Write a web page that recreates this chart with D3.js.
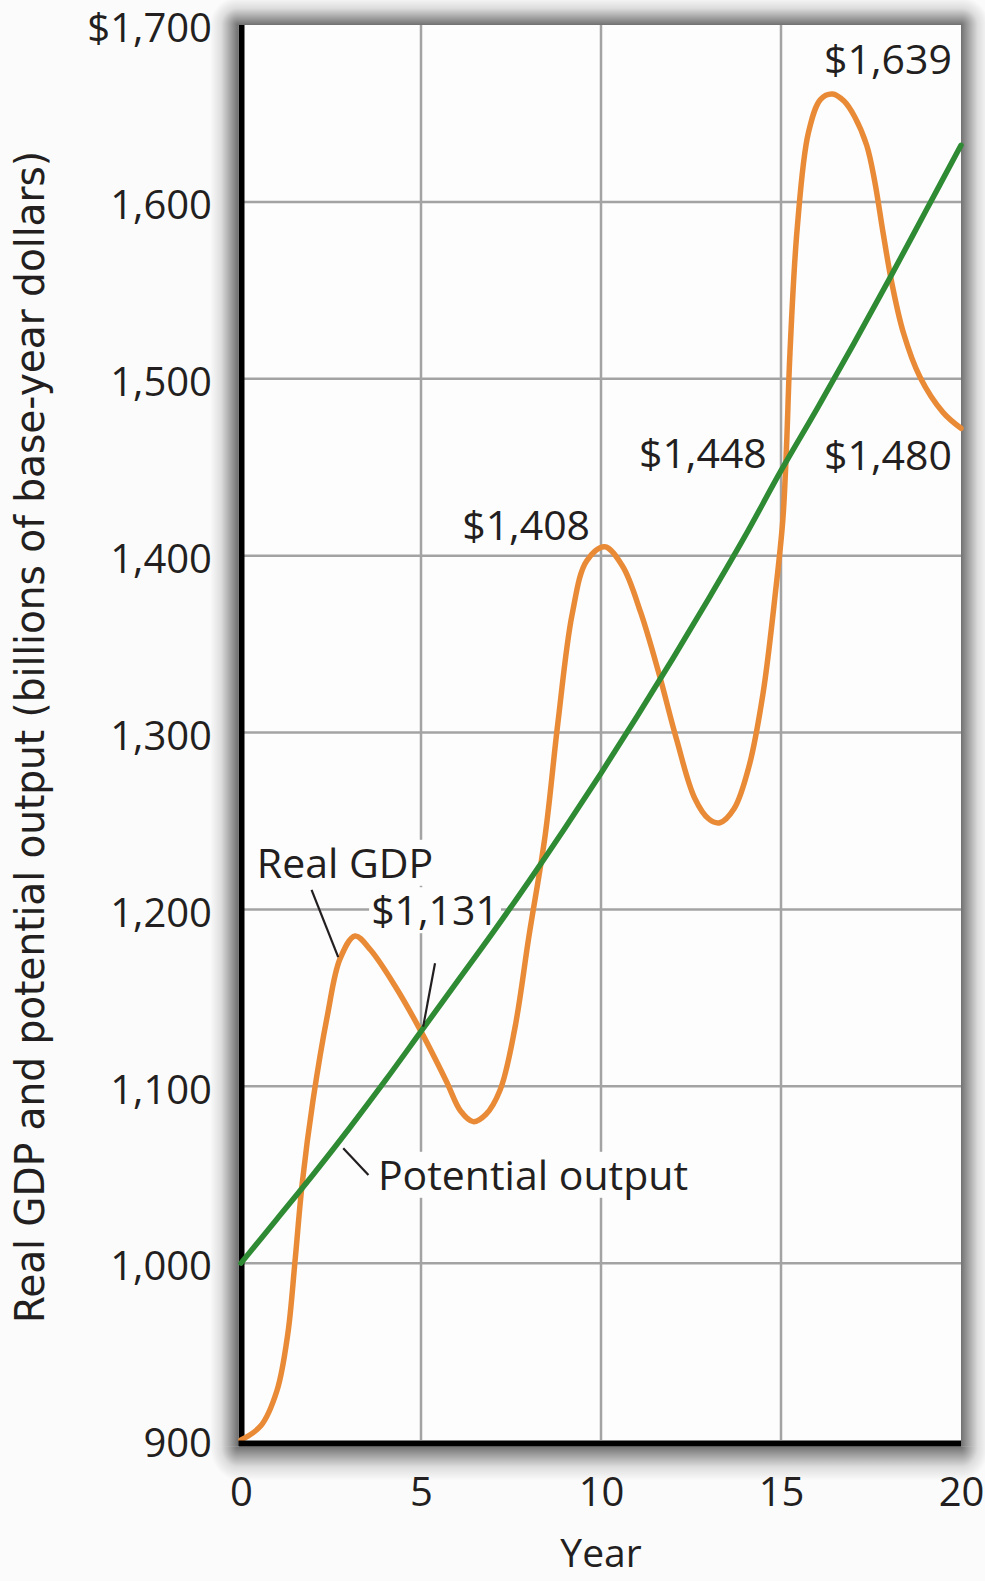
<!DOCTYPE html>
<html><head><meta charset="utf-8">
<script src="https://cdn.jsdelivr.net/npm/d3@7"></script>
<style>html,body{margin:0;padding:0;background:#fbfbfb;} svg{display:block;}</style>
</head><body>
<svg id="chart" width="985" height="1581"></svg>
<script>
// ---- data ----
const xTicks = [0, 5, 10, 15, 20];
const xTickLabels = ["0", "5", "10", "15", "20"];
const yTicks = [900, 1000, 1100, 1200, 1300, 1400, 1500, 1600, 1700];
const yTickLabels = ["900", "1,000", "1,100", "1,200", "1,300", "1,400", "1,500", "1,600", "$1,700"];

const potentialYears = [0,1,2,3,4,5,6,7,8,9,10,11,12,13,14,15,16,17,18,19,20];
const potentialValues = [1000,1025,1050,1076,1103,1131,1159,1187,1216,1246,1277,1309,1342,1376,1411,1448,1483,1519,1556,1594,1632];

const gdpYears = [0,0.55,1.0,1.3,1.5,1.7,2.0,2.4,2.75,3.17,3.6,4.3,5.0,5.7,6.1,6.45,6.8,7.2,7.6,8.0,8.45,8.8,9.2,9.6,10.1,10.6,11.1,11.6,12.1,12.6,13.0,13.3,13.7,14.1,14.5,14.85,15.05,15.15,15.25,15.45,15.76,16.1,16.43,16.75,17.05,17.38,17.6,17.84,18.08,18.4,18.86,19.5,20];
const gdpValues = [900,908,928,960,1001,1045,1092,1140,1172,1185,1177,1156,1131,1103,1086,1080,1084,1098,1132,1185,1242,1305,1367,1397,1405,1394,1368,1334,1296,1263,1251,1249,1257,1280,1322,1380,1420,1460,1515,1585,1639,1658,1661,1657,1648,1632,1612,1582,1554,1526,1501,1481,1472];

const labelTexts = ["$1,639", "$1,448", "$1,480", "$1,408", "Real GDP", "$1,131", "Potential output"];
const labelYears = [17.97, 12.83, 17.97, 7.92, 2.89, 5.39, 8.11];
const labelValues = [1680.8, 1458, 1456.9, 1417.3, 1226.2, 1199.4, 1049.8];

const leaderYears1 = [1.96, 5.39, 2.84];
const leaderValues1 = [1211, 1169.5, 1064.9];
const leaderYears2 = [2.70, 5.06, 3.54];
const leaderValues2 = [1173, 1133.7, 1049.8];

// ---- layout ----
const svg = d3.select("#chart");
const plotLeft = 241, plotRight = 961, plotTop = 25, plotBottom = 1440;
const x = d3.scaleLinear().domain([0, 20]).range([plotLeft, plotRight]);
const y = d3.scaleLinear().domain([900, 1700]).range([plotBottom, plotTop]);
const FONT = "'Open Sans', 'Noto Sans', sans-serif";
const TXT = "#231f20";

const defs = svg.append("defs");
const stops = [[0, 0.55], [0.3, 0.33], [0.6, 0.12], [1, 0]];
function grad(id, x1, y1, x2, y2) {
  const g = defs.append("linearGradient").attr("id", id).attr("x1", x1).attr("y1", y1).attr("x2", x2).attr("y2", y2);
  stops.forEach(s => g.append("stop").attr("offset", s[0]).attr("stop-color", "#000").attr("stop-opacity", s[1]));
}
function rgrad(id, cx, cy) {
  const g = defs.append("radialGradient").attr("id", id).attr("cx", cx).attr("cy", cy).attr("r", 1).attr("fx", cx).attr("fy", cy);
  stops.forEach(s => g.append("stop").attr("offset", s[0]).attr("stop-color", "#000").attr("stop-opacity", s[1]));
}
grad("gL", "100%", "0%", "0%", "0%");
grad("gR", "0%", "0%", "100%", "0%");
grad("gT", "0%", "100%", "0%", "0%");
grad("gB", "0%", "0%", "0%", "100%");
rgrad("cTL", 1, 1); rgrad("cTR", 0, 1); rgrad("cBL", 1, 0); rgrad("cBR", 0, 0);

const x0 = x(0) - 3, x1 = x(20), y0 = y(1700), y1 = y(900) + 6.5;
const sw = 28;
const sh = svg.append("g");
sh.append("rect").attr("x", x0 - sw).attr("y", y0).attr("width", sw).attr("height", y1 - y0).attr("fill", "url(#gL)");
sh.append("rect").attr("x", x1).attr("y", y0).attr("width", sw).attr("height", y1 - y0).attr("fill", "url(#gR)");
sh.append("rect").attr("x", x0).attr("y", y0 - sw).attr("width", x1 - x0).attr("height", sw).attr("fill", "url(#gT)");
sh.append("rect").attr("x", x0).attr("y", y1).attr("width", x1 - x0).attr("height", sw + 6).attr("fill", "url(#gB)");
sh.append("rect").attr("x", x0 - sw).attr("y", y0 - sw).attr("width", sw).attr("height", sw).attr("fill", "url(#cTL)");
sh.append("rect").attr("x", x1).attr("y", y0 - sw).attr("width", sw).attr("height", sw).attr("fill", "url(#cTR)");
sh.append("rect").attr("x", x0 - sw).attr("y", y1).attr("width", sw).attr("height", sw + 6).attr("fill", "url(#cBL)");
sh.append("rect").attr("x", x1).attr("y", y1).attr("width", sw).attr("height", sw + 6).attr("fill", "url(#cBR)");

svg.append("rect").attr("x", x(0)).attr("y", y(1700)).attr("width", x(20) - x(0)).attr("height", y(900) - y(1700))
  .attr("fill", "#fdfdfd");

// grid
const grid = svg.append("g");
grid.selectAll("line.h").data(yTicks.filter(v => v > 900 && v < 1700)).join("line")
  .attr("x1", x(0)).attr("x2", x(20)).attr("y1", d => y(d)).attr("y2", d => y(d))
  .attr("stroke", "#a3a3a3").attr("stroke-width", 2.5);
grid.selectAll("line.v").data(xTicks.filter(v => v > 0 && v < 20)).join("line")
  .attr("x1", d => x(d)).attr("x2", d => x(d)).attr("y1", y(1700)).attr("y2", y(900))
  .attr("stroke", "#a3a3a3").attr("stroke-width", 2.5);

// annotation background boxes (hide grid under labels)
const boxes = svg.append("g");

// lines
const potLine = d3.line().x((d, i) => x(potentialYears[i])).y(d => y(d)).curve(d3.curveCatmullRom.alpha(0.5));
const gdpLine = d3.line().x((d, i) => x(gdpYears[i])).y(d => y(d)).curve(d3.curveCatmullRom.alpha(0.5));

svg.append("line").attr("x1", x(0) + 0.5).attr("x2", x(0) + 0.5).attr("y1", y(1700)).attr("y2", y(900) + 6)
  .attr("stroke", "#000").attr("stroke-width", 6);

svg.append("path").datum(gdpValues).attr("d", gdpLine).attr("fill", "none")
  .attr("stroke", "#e98a37").attr("stroke-width", 5.5).attr("stroke-linecap", "round");
svg.append("path").datum(potentialValues).attr("d", potLine).attr("fill", "none")
  .attr("stroke", "#2e8b34").attr("stroke-width", 5.5).attr("stroke-linecap", "round");

svg.append("line").attr("x1", x(0) - 2.5).attr("x2", x(20)).attr("y1", y(900) + 3.5).attr("y2", y(900) + 3.5)
  .attr("stroke", "#000").attr("stroke-width", 6);

// leader lines
svg.append("g").selectAll("line").data(leaderYears1).join("line")
  .attr("x1", (d, i) => x(d)).attr("y1", (d, i) => y(leaderValues1[i]))
  .attr("x2", (d, i) => x(leaderYears2[i])).attr("y2", (d, i) => y(leaderValues2[i]))
  .attr("stroke", "#231f20").attr("stroke-width", 2.2);

// axis tick labels
const yAxis = d3.axisLeft(y).tickValues(yTicks).tickFormat((d, i) => yTickLabels[i]).tickSize(0).tickPadding(29);
const ya = svg.append("g").attr("transform", `translate(${x(0)},0)`).call(yAxis);
ya.select(".domain").remove();
ya.selectAll("text").attr("font-family", FONT).attr("font-size", 40).attr("fill", TXT).attr("dy", "0.42em");

const xAxis = d3.axisBottom(x).tickValues(xTicks).tickFormat((d, i) => xTickLabels[i]).tickSize(0).tickPadding(38);
const xa = svg.append("g").attr("transform", `translate(0,${y(900)})`).call(xAxis);
xa.select(".domain").remove();
xa.selectAll("text").attr("font-family", FONT).attr("font-size", 40).attr("fill", TXT);

// axis titles
svg.append("text").attr("x", x(10)).attr("y", 1567).attr("text-anchor", "middle")
  .attr("font-family", FONT).attr("font-size", 39).attr("fill", TXT).text("Year");
svg.append("text").attr("transform", "translate(44,737) rotate(-90)").attr("text-anchor", "middle")
  .attr("font-family", "'Liberation Sans Narrow', 'DejaVu Sans Condensed', sans-serif").attr("font-size", 41)
  .attr("textLength", 1172).attr("lengthAdjust", "spacingAndGlyphs").attr("fill", TXT)
  .text("Real GDP and potential output (billions of base-year dollars)");

// annotation labels
const labelsG = svg.append("g");
labelTexts.forEach((t, i) => {
  const tx = labelsG.append("text").attr("x", x(labelYears[i])).attr("y", y(labelValues[i]))
    .attr("dy", "0.36em").attr("text-anchor", "middle")
    .attr("font-family", FONT).attr("font-size", 41).attr("fill", TXT).text(t);
  const b = tx.node().getBBox();
  boxes.append("rect").attr("x", b.x - 2).attr("y", b.y + 6).attr("width", b.width + 4).attr("height", b.height - 10)
    .attr("fill", "#fdfdfd");
});
</script>
</body></html>
